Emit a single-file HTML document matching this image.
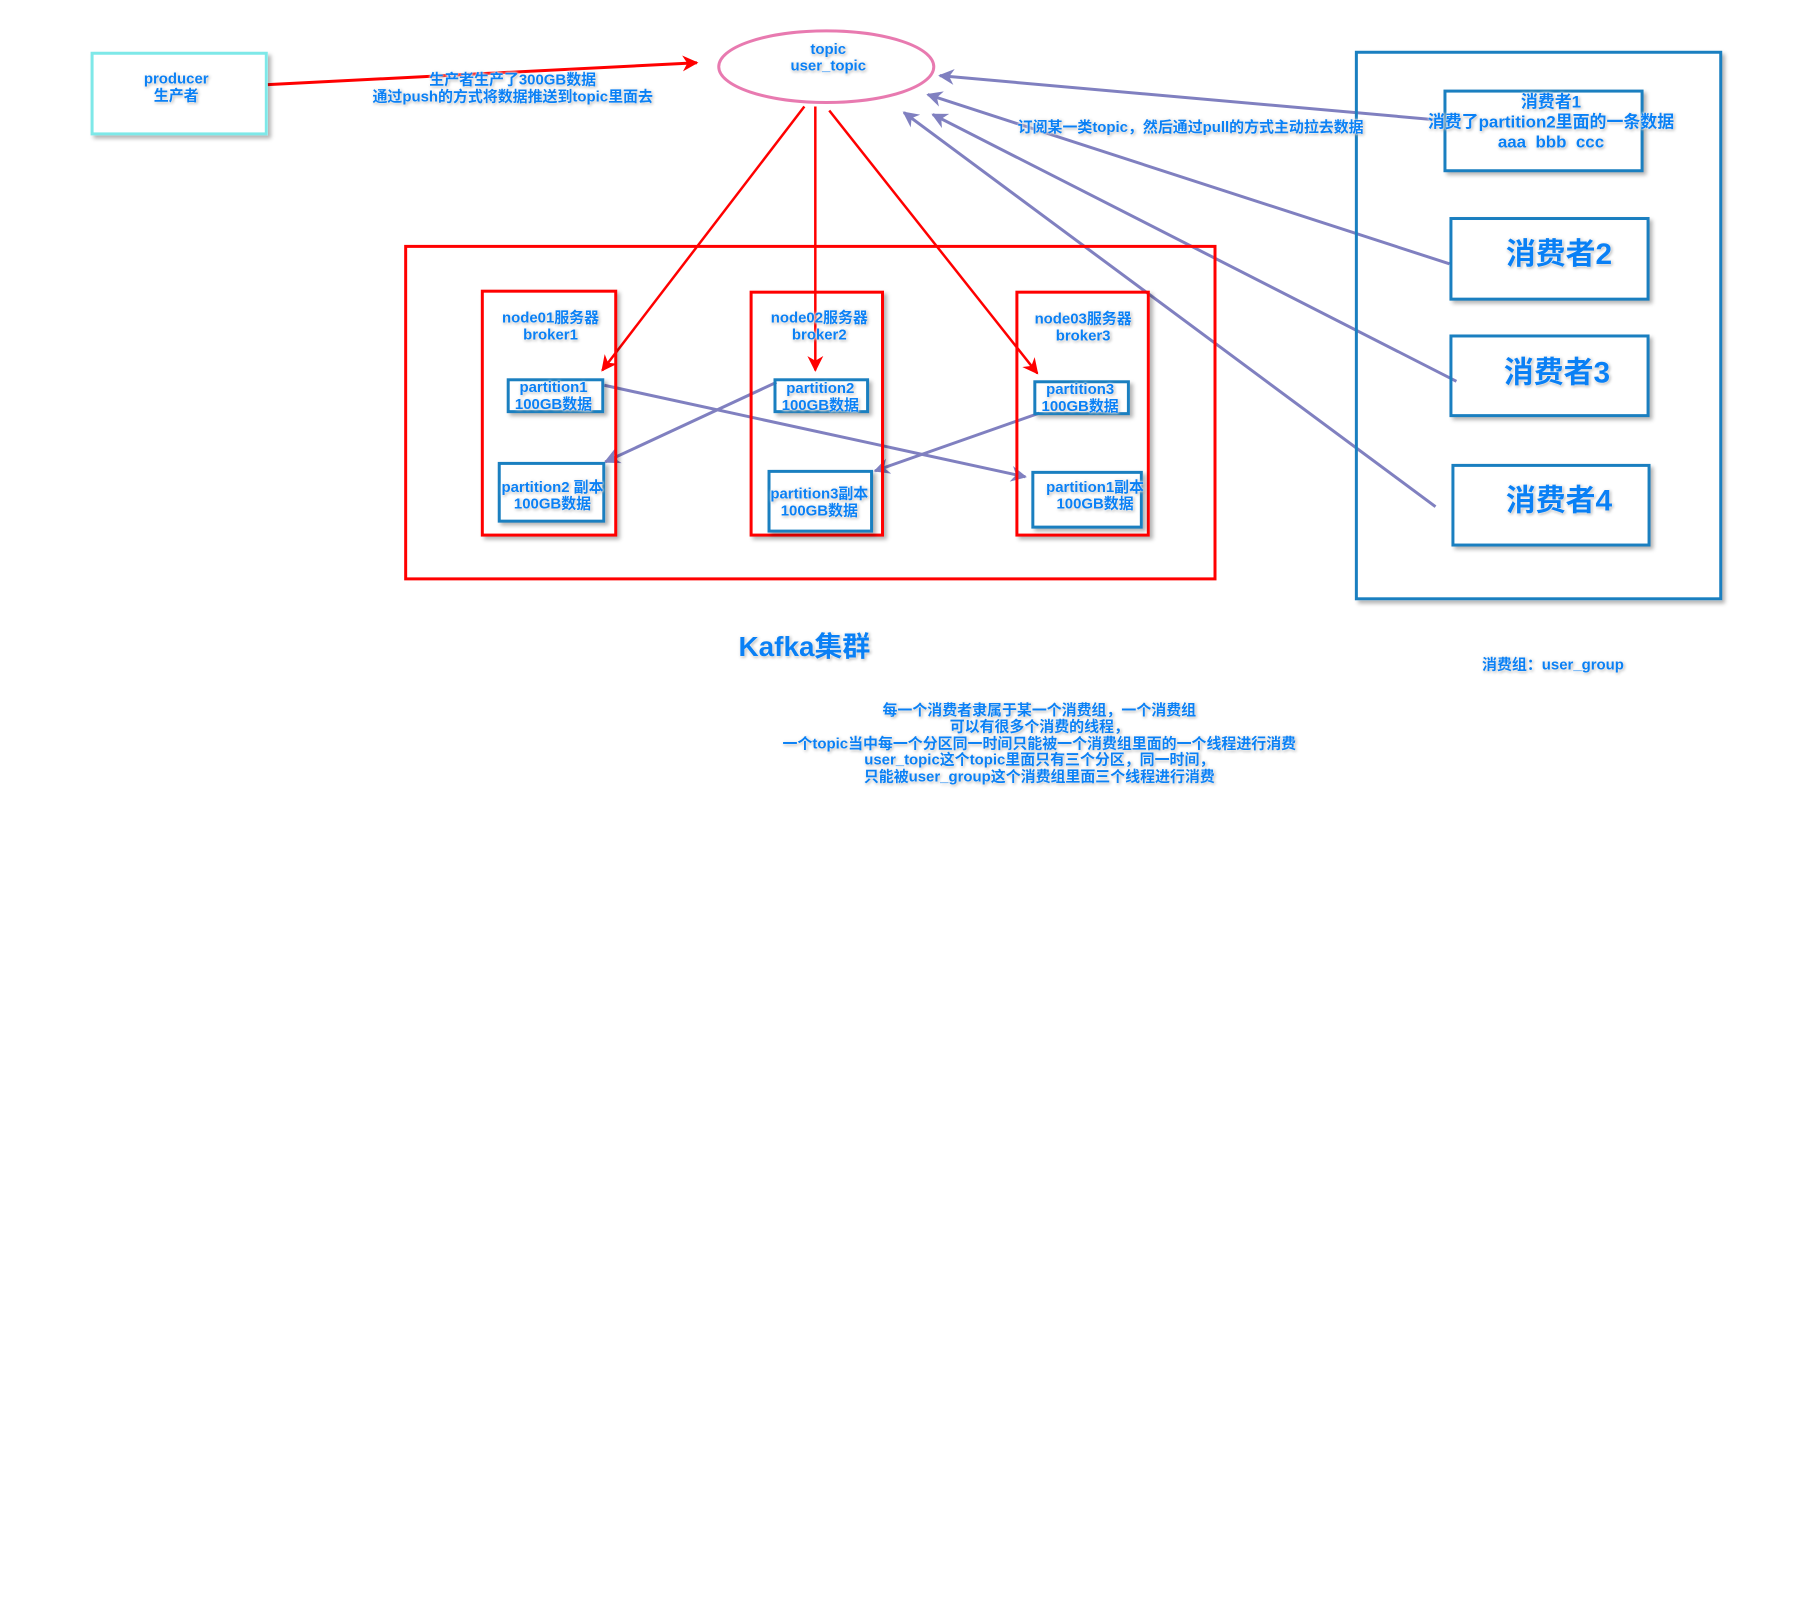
<!DOCTYPE html>
<html><head><meta charset="utf-8"><style>
body{margin:0;background:#fff;width:1800px;height:1600px;overflow:hidden;position:relative;font-family:"Liberation Sans","Noto Sans CJK SC",sans-serif}
#w{position:absolute;left:0;top:0;width:1800px;height:1600px;transform:scale(0.9955);transform-origin:0 0}
.b{position:absolute;box-sizing:border-box;box-shadow:3px 3px 4px rgba(0,0,0,.3)}
.t{position:absolute;color:#0a80f5;font-weight:bold;font-size:15px;line-height:17px;text-align:center;white-space:nowrap;transform:translate(-50%,-50%);text-shadow:0 0 2px #fff,0 0 3px #fff,1px 1px 3px #888}
</style></head><body><div id="w">
<svg width="1800" height="1600" style="position:absolute;left:0;top:0">
<defs>
<marker id="r" markerWidth="16" markerHeight="16" refX="9" refY="5" orient="auto" markerUnits="userSpaceOnUse" viewBox="0 0 10 10"><path d="M0,0 L10,5 L0,10 L3,5z" fill="#f00"/></marker>
<marker id="p" markerWidth="16" markerHeight="16" refX="9" refY="5" orient="auto" markerUnits="userSpaceOnUse" viewBox="0 0 10 10"><path d="M0,0 L10,5 L0,10 L3,5z" fill="#8080c0"/></marker>
</defs>
<ellipse cx="830" cy="67" rx="108" ry="36" fill="#fff" stroke="#e87ab0" stroke-width="3"/>
<g stroke="#f00" stroke-width="2.5" fill="none">
<line x1="269" y1="85" x2="700" y2="63" marker-end="url(#r)" stroke-width="3"/>
<line x1="808" y1="107" x2="605" y2="372" marker-end="url(#r)"/>
<line x1="819" y1="107" x2="819" y2="372" marker-end="url(#r)"/>
<line x1="833" y1="111" x2="1042" y2="375" marker-end="url(#r)"/>
</g>
<g stroke="#8080c0" stroke-width="3" fill="none">
<line x1="607" y1="387" x2="1030" y2="479" marker-end="url(#p)"/>
<line x1="780" y1="384" x2="608" y2="464" marker-end="url(#p)"/>
<line x1="1044" y1="415" x2="879" y2="473" marker-end="url(#p)"/>
<line x1="1450" y1="121" x2="944" y2="76" marker-end="url(#p)"/>
<line x1="1456" y1="265" x2="932" y2="95" marker-end="url(#p)"/>
<line x1="1463" y1="383" x2="937" y2="115" marker-end="url(#p)"/>
<line x1="1442" y1="509" x2="908" y2="113" marker-end="url(#p)"/>
</g>
</svg>
<div class="b" style="left:91px;top:52px;width:178px;height:84px;border:3px solid #7ee8e8"></div>
<div class="b" style="left:406px;top:246px;width:816px;height:337px;border:3px solid #f00;box-shadow:none"></div>
<div class="b" style="left:483px;top:291px;width:137px;height:248px;border:3px solid #f00"></div>
<div class="b" style="left:753px;top:292px;width:135px;height:247px;border:3px solid #f00"></div>
<div class="b" style="left:1020px;top:292px;width:135px;height:247px;border:3px solid #f00"></div>
<div class="b" style="left:509px;top:380px;width:98px;height:35px;border:3px solid #1a7fc0"></div>
<div class="b" style="left:777px;top:380px;width:96px;height:35px;border:3px solid #1a7fc0"></div>
<div class="b" style="left:1038px;top:382px;width:97px;height:35px;border:3px solid #1a7fc0"></div>
<div class="b" style="left:500px;top:464px;width:108px;height:61px;border:3px solid #1a7fc0"></div>
<div class="b" style="left:771px;top:472px;width:106px;height:63px;border:3px solid #1a7fc0"></div>
<div class="b" style="left:1036px;top:473px;width:112px;height:58px;border:3px solid #1a7fc0"></div>
<div class="b" style="left:1361px;top:51px;width:369px;height:552px;border:3px solid #1a7fc0"></div>
<div class="b" style="left:1450px;top:90px;width:201px;height:83px;border:3px solid #1a7fc0"></div>
<div class="b" style="left:1456px;top:218px;width:201px;height:84px;border:3px solid #1a7fc0"></div>
<div class="b" style="left:1456px;top:336px;width:201px;height:83px;border:3px solid #1a7fc0"></div>
<div class="b" style="left:1458px;top:466px;width:200px;height:83px;border:3px solid #1a7fc0"></div>

<div class="t" style="left:177px;top:88px">producer<br>生产者</div>
<div class="t" style="left:832px;top:58px">topic<br>user_topic</div>
<div class="t" style="left:515px;top:89px">生产者生产了300GB数据<br>通过push的方式将数据推送到topic里面去</div>
<div class="t" style="left:553px;top:328px">node01服务器<br>broker1</div>
<div class="t" style="left:823px;top:328px">node02服务器<br>broker2</div>
<div class="t" style="left:1088px;top:329px">node03服务器<br>broker3</div>
<div class="t" style="left:556px;top:398px">partition1<br>100GB数据</div>
<div class="t" style="left:824px;top:399px">partition2<br>100GB数据</div>
<div class="t" style="left:1085px;top:400px">partition3<br>100GB数据</div>
<div class="t" style="left:555px;top:498px">partition2 副本<br>100GB数据</div>
<div class="t" style="left:823px;top:505px">partition3副本<br>100GB数据</div>
<div class="t" style="left:1100px;top:498px">partition1副本<br>100GB数据</div>
<div class="t" style="left:1196px;top:128px">订阅某一类topic，然后通过pull的方式主动拉去数据</div>
<div class="t" style="left:1558px;top:123px;font-size:17px;line-height:20px">消费者1<br>消费了partition2里面的一条数据<br>aaa&nbsp; bbb&nbsp; ccc</div>
<div class="t" style="left:1566px;top:256px;font-size:30px;line-height:34px">消费者2</div>
<div class="t" style="left:1564px;top:375px;font-size:30px;line-height:34px">消费者3</div>
<div class="t" style="left:1566px;top:504px;font-size:30px;line-height:34px">消费者4</div>
<div class="t" style="left:808px;top:650px;font-size:28px;line-height:32px">Kafka集群</div>
<div class="t" style="left:1560px;top:668px">消费组：user_group</div>
<div class="t" style="left:1044px;top:748px;line-height:16.8px">每一个消费者隶属于某一个消费组，一个消费组<br>可以有很多个消费的线程，<br>一个topic当中每一个分区同一时间只能被一个消费组里面的一个线程进行消费<br>user_topic这个topic里面只有三个分区，同一时间，<br>只能被user_group这个消费组里面三个线程进行消费</div>
</div></body></html>
